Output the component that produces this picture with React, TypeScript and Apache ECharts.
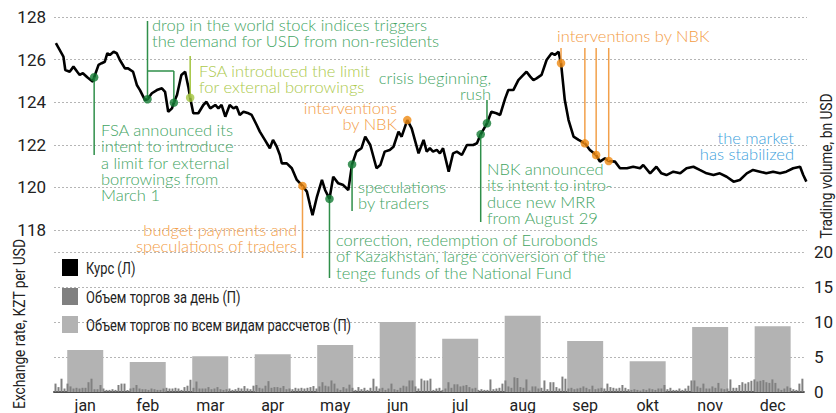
import React, { useEffect, useRef } from "react";
import * as echarts from "echarts";

// ---------- DATA ----------
const months = ["jan", "feb", "mar", "apr", "may", "jun", "jul", "aug", "sep", "okt", "nov", "dec"];

// Monthly trading volume, all settlement types (bn USD)
const monthlyVolume = [6.0, 4.3, 5.1, 5.4, 6.7, 10.0, 7.6, 10.9, 7.3, 4.4, 9.3, 9.4];

// Daily trading volume (bn USD), one value per trading day
const dailyVolume = [
  1.2, 0.7, 1.9, 0.5, 1.2, 0.8, 0.5, 0.6, 0.5, 0.6,
  0.6, 1.4, 1.9, 0.4, 0.4, 1.0, 0.5, 0.3, 0.3, 0.4,
  0.3, 1.0, 1.2, 1.2, 0.3, 0.5, 0.6, 1.0, 0.5, 0.4,
  0.4, 0.3, 0.5, 0.4, 0.3, 0.3, 0.5, 0.6, 0.5, 0.5,
  0.6, 0.5, 0.3, 0.7, 0.9, 1.75, 0.6, 1.5, 0.5, 0.5,
  0.5, 0.7, 0.4, 0.5, 0.7, 0.4, 0.3, 0.4, 0.5, 0.3,
  0.4, 0.6, 0.5, 0.85, 0.5, 0.4, 0.9, 1.0, 0.6, 0.5,
  0.9, 1.55, 0.6, 0.7, 0.7, 0.6, 0.85, 0.4, 0.5, 0.4,
  0.6, 0.5, 0.6, 0.5, 0.6, 0.7, 0.85, 0.5, 0.8, 1.4,
  0.9, 0.8, 1.65, 1.2, 0.5, 0.3, 0.7, 0.5, 1.05, 0.6,
  0.3, 0.7, 0.4, 0.6, 0.3, 0.6, 1.9, 0.8, 0.5, 0.6,
  0.3, 0.5, 1.2, 0.4, 0.3, 0.6, 0.9, 0.8, 1.65, 1.65,
  0.8, 0.5, 1.9, 1.65, 1.65, 1.9, 0.3, 0.5, 0.6, 0.3,
  0.5, 1.4, 0.6, 1.1, 1.1, 0.8, 0.9, 1.0, 0.7, 0.5,
  0.6, 0.3, 0.4, 0.3, 0.3, 1.8, 0.4, 0.5, 0.6, 1.2,
  1.65, 0.8, 0.6, 2.1, 2.0, 0.7, 0.6, 1.8, 0.2, 0.8,
  0.8, 0.5, 0.6, 1.65, 0.4, 1.4, 1.4, 0.7, 0.5, 2.2,
  1.9, 0.5, 0.6, 0.4, 0.5, 0.6, 0.8, 0.6, 0.4, 0.9,
  0.4, 0.5, 0.6, 0.5, 1.2, 0.7, 0.6, 0.5, 0.6, 1.0,
  0.6, 0.4, 0.3, 0.4, 0.3, 0.2, 0.4, 0.3, 0.5, 0.4,
  0.3, 0.5, 0.5, 1.0, 0.4, 0.6, 0.3, 0.3, 0.5, 0.3,
  0.5, 0.9, 1.65, 1.65, 0.8, 0.6, 1.2, 0.5, 0.5, 0.8,
  0.6, 1.3, 0.5, 0.4, 0.5, 1.8, 0.6, 0.6, 1.0, 1.4,
  1.2, 1.4, 1.6, 1.8, 1.5, 1.6, 1.7, 1.4, 1.3, 1.8,
  1.3, 0.5, 0.3, 0.5, 0.8, 0.6, 0.4, 0.3, 1.2, 1.9,
];

// Exchange rate: time in months from Jan 1 (t) and KZT per USD (v)
const rateT = [
  0.03, 0.15, 0.18, 0.25, 0.31, 0.37, 0.41, 0.46, 0.53, 0.62, 0.64, 0.71, 0.76, 0.81, 0.85, 0.89, 0.95,
  1.0, 1.05, 1.13, 1.18, 1.26, 1.32, 1.37, 1.45, 1.49, 1.56, 1.64, 1.72, 1.77, 1.82, 1.88, 1.91, 1.96,
  2.03, 2.09, 2.14, 2.17, 2.22, 2.3, 2.38, 2.43, 2.49, 2.57, 2.62, 2.67, 2.73, 2.8, 2.86, 2.91, 2.96,
  3.02, 3.1, 3.15, 3.23, 3.28, 3.36, 3.44, 3.49, 3.55, 3.6, 3.63, 3.71, 3.79, 3.87, 3.96,
  4.03, 4.08, 4.12, 4.19, 4.27, 4.32, 4.39, 4.45, 4.53, 4.61, 4.69, 4.75, 4.82, 4.9, 4.96,
  5.04, 5.14, 5.2, 5.27, 5.35, 5.41, 5.49, 5.54, 5.63, 5.7, 5.81, 5.89, 5.94, 5.99,
  6.04, 6.1, 6.15, 6.2, 6.29, 6.36, 6.42, 6.5, 6.58, 6.68, 6.74, 6.8, 6.9, 6.97,
  7.05, 7.11, 7.19, 7.24, 7.32, 7.4, 7.48, 7.53, 7.59, 7.64, 7.69, 7.77, 7.85, 7.93, 7.98,
  8.04, 8.08, 8.14, 8.2, 8.28, 8.36, 8.46, 8.54, 8.64, 8.7, 8.78, 8.84, 8.94,
  9.02, 9.13, 9.23, 9.34, 9.39, 9.5, 9.6, 9.68, 9.76, 9.87, 9.98,
  10.08, 10.19, 10.29, 10.4, 10.51, 10.61, 10.72, 10.83, 10.93,
  11.04, 11.14, 11.25, 11.35, 11.46, 11.57, 11.67, 11.78, 11.89, 11.94, 11.99,
];
const rateV = [
  126.77, 126.14, 125.51, 125.43, 125.67, 125.43, 125.28, 125.36, 125.17, 124.96, 125.17, 125.75, 125.83, 125.9, 126.3, 126.22, 126.37,
  126.3, 125.98, 125.59, 125.59, 125.43, 124.81, 124.57, 124.1, 124.14, 124.42, 124.57, 124.65, 124.49, 123.55, 123.71, 123.98, 124.34,
  125.28, 125.43, 124.73, 124.21, 123.48, 123.48, 123.87, 124.02, 123.71, 123.87, 123.71, 123.87, 123.32, 123.87, 123.71, 123.79, 123.4,
  123.55, 123.48, 123.4, 122.93, 122.62, 122.23, 121.84, 122.23, 121.91, 121.52, 121.13, 121.13, 120.9, 120.35, 120.07,
  119.8, 119.17, 118.7, 119.56, 120.35, 119.88, 119.46, 120.5, 120.19, 120.11, 119.88, 121.08, 121.68, 121.84, 122.38,
  121.99, 120.9, 121.05, 121.68, 121.76, 121.91, 122.62, 122.38, 123.16, 122.77, 121.6, 122.23, 121.68, 121.84,
  121.68, 121.76, 121.6, 121.84, 120.74, 121.6, 121.68, 121.52, 121.99, 121.99, 122.07, 122.49, 123.01, 123.55,
  123.48, 123.4, 124.18, 124.57, 124.57, 125.04, 125.28, 125.43, 125.2, 125.04, 125.12, 125.28, 125.98, 126.3, 126.22,
  126.37, 125.83, 124.1, 123.16, 122.38, 122.23, 122.07, 121.76, 121.52, 121.21, 121.37, 121.24, 121.21,
  120.9, 120.9, 120.97, 120.9, 121.05, 120.66, 120.97, 120.66, 120.58, 120.74, 120.66,
  120.9, 120.97, 120.82, 120.66, 120.58, 120.66, 120.5, 120.27, 120.35,
  120.66, 120.82, 120.74, 120.66, 120.74, 120.66, 120.74, 120.9, 120.97, 120.58, 120.27,
];

// Marked events on the rate line
const eventT = [0.64, 1.49, 1.91, 2.17, 3.96, 4.39, 4.75, 5.63, 6.8, 6.9, 8.08, 8.46, 8.64, 8.84];
const eventV = [125.17, 124.14, 123.98, 124.21, 120.07, 119.46, 121.08, 123.16, 122.49, 123.01, 125.83, 122.07, 121.52, 121.24];
const eventKind = ["event", "event", "event", "fsa", "nbk", "event", "event", "nbk", "event", "event", "nbk", "nbk", "nbk", "nbk"];

const seriesNames = ["Курс (Л)", "Объем торгов за день (П)", "Объем торгов по всем видам рассчетов (П)"];

// ---------- STYLE / LAYOUT ----------
const AX_FONT = "Roboto, 'DejaVu Sans', sans-serif";
const ANN_FONT = "Lato, 'Noto Sans', sans-serif";
const COND = 0.76; // horizontal squeeze to imitate the condensed face
const kindStyle: Record<string, { text: string; dot: string; line: string }> = {
  event: { text: "#3fa462", dot: "#137a33", line: "#2f8f4a" },
  fsa: { text: "#abc94a", dot: "#a3c43e", line: "#a3c43e" },
  nbk: { text: "#f39c45", dot: "#ef8a12", line: "#f2a04a" },
  calm: { text: "#3c9fdc", dot: "#3c9fdc", line: "#3c9fdc" },
};
const legendColors = ["#000000", "#808080", "#b3b3b3"];
const legendLayout = { x: 62, y: [259, 288, 316], w: 16, h: 17, textX: 86 };

const notes = [
  { text: "FSA announced its\nintent to introduce\na limit for external\nborrowings from\nMarch 1", kind: "event", x: 101, y: 122, align: "left" },
  { text: "drop in the world stock indices triggers\nthe demand for USD from non-residents", kind: "event", x: 152, y: 17, align: "left" },
  { text: "FSA introduced the limit\nfor external borrowings", kind: "fsa", x: 199, y: 63, align: "left" },
  { text: "budget payments and\nspeculations of traders", kind: "nbk", x: 297, y: 222, align: "right" },
  { text: "correction, redemption of Eurobonds\nof Kazakhstan, large conversion of the\ntenge funds of the National Fund", kind: "event", x: 336, y: 232, align: "left" },
  { text: "speculations\nby traders", kind: "event", x: 358, y: 179, align: "left" },
  { text: "interventions\nby NBK", kind: "nbk", x: 397, y: 100, align: "right" },
  { text: "crisis beginning,\nrush", kind: "event", x: 491, y: 70, align: "right" },
  { text: "NBK announced\nits intent to intro-\nduce new MRR\nfrom August 29", kind: "event", x: 487, y: 161, align: "left" },
  { text: "interventions by NBK", kind: "nbk", x: 557, y: 28, align: "left" },
  { text: "the market\nhas stabilized", kind: "calm", x: 794, y: 130, align: "right" },
];

// connector from event dot to a pixel y
const connectors = [
  { e: 0, toY: 155 }, { e: 1, toY: 21 }, { e: 2, toY: 71 }, { e: 3, toY: 56 },
  { e: 4, toY: 258 }, { e: 5, toY: 278 }, { e: 6, toY: 211 }, { e: 8, toY: 222 },
  { e: 9, toY: 100 }, { e: 10, toY: 48 }, { e: 11, toY: 48 }, { e: 12, toY: 48 }, { e: 13, toY: 48 },
];

const splitStyle = { show: true, lineStyle: { color: "#b5b5b5", type: [2, 2] as any, width: 1 } };

export default function App() {
  const ref = useRef<HTMLDivElement>(null);
  useEffect(() => {
    const chart = echarts.init(ref.current!, null, { renderer: "svg" });
    const option: any = {
      animation: false,
      backgroundColor: "#ffffff",
      textStyle: { fontFamily: AX_FONT },
      grid: [
        { left: 54, right: 29, top: 17, height: 213 },
        { left: 54, right: 29, top: 252, height: 141 },
      ],
      xAxis: [
        { type: "value", gridIndex: 0, min: 0, max: 12, show: false },
        {
          type: "category",
          gridIndex: 1,
          data: months,
          axisLine: { show: true, lineStyle: { color: "#4d4d4d", width: 2 } },
          axisTick: { show: false },
          axisLabel: { fontSize: 16, color: "#222", margin: 5, fontFamily: AX_FONT },
        },
        { type: "category", gridIndex: 1, data: dailyVolume.map((_, i) => String(i)), show: false },
      ],
      yAxis: [
        {
          type: "value", gridIndex: 0, min: 118, max: 128, interval: 2,
          axisLine: { show: false }, axisTick: { show: false },
          axisLabel: { fontSize: 17, color: "#222", margin: 8, fontFamily: AX_FONT },
          splitLine: splitStyle,
        },
        {
          type: "value", gridIndex: 1, position: "right", min: 0, max: 20, interval: 5,
          axisLine: { show: false }, axisTick: { show: false },
          axisLabel: { fontSize: 17, color: "#222", margin: 10, fontFamily: AX_FONT },
          splitLine: splitStyle,
        },
      ],
      series: [
        {
          name: seriesNames[2], type: "bar", xAxisIndex: 1, yAxisIndex: 1,
          data: monthlyVolume, barWidth: 36, itemStyle: { color: legendColors[2] }, z: 2,
        },
        {
          name: seriesNames[1], type: "bar", xAxisIndex: 2, yAxisIndex: 1,
          data: dailyVolume, barWidth: 2, itemStyle: { color: legendColors[1] }, z: 3,
        },
        {
          name: seriesNames[0], type: "line", xAxisIndex: 0, yAxisIndex: 0,
          data: rateT.map((t, i) => [t, rateV[i]]), showSymbol: false, symbol: "none",
          lineStyle: { color: legendColors[0], width: 2.6 }, itemStyle: { color: legendColors[0] }, z: 4,
        },
        {
          name: "events", type: "scatter", xAxisIndex: 0, yAxisIndex: 0, symbolSize: 8.5, z: 6,
          data: eventT.map((t, i) => ({ value: [t, eventV[i]], itemStyle: { color: kindStyle[eventKind[i]].dot } })),
        },
      ],
    };
    chart.setOption(option);

    const px = (i: number) => chart.convertToPixel({ gridIndex: 0 }, [eventT[i], eventV[i]]) as number[];
    const graphics: any[] = [];
    connectors.forEach((c) => {
      const p = px(c.e);
      graphics.push({
        type: "line", z: 5,
        shape: { x1: p[0], y1: p[1], x2: p[0], y2: c.toY },
        style: { stroke: kindStyle[eventKind[c.e]].line, lineWidth: 1.5 },
      });
    });
    // bracket joining the two "drop in world stock indices" events
    const b1 = px(1), b2 = px(2);
    graphics.push({
      type: "line", z: 5,
      shape: { x1: b1[0], y1: 71, x2: b2[0], y2: 71 },
      style: { stroke: kindStyle.event.line, lineWidth: 1.5 },
    });
    notes.forEach((n) => {
      graphics.push({
        type: "text", z: 7, x: n.x, y: n.y,
        style: {
          text: n.text, fill: kindStyle[n.kind].text, font: `300 16.5px ${ANN_FONT}`,
          lineHeight: 16.3, align: n.align, verticalAlign: "top",
        },
      });
    });
    // legend
    seriesNames.forEach((name, i) => {
      graphics.push({
        type: "rect", z: 7,
        shape: { x: legendLayout.x, y: legendLayout.y[i], width: legendLayout.w, height: legendLayout.h },
        style: { fill: legendColors[i] },
      });
      graphics.push({
        type: "text", z: 7, x: legendLayout.textX, y: legendLayout.y[i] + legendLayout.h / 2 + 0.5, scaleX: COND,
        style: { text: name, fill: "#222", font: `17px ${AX_FONT}`, align: "left", verticalAlign: "middle" },
      });
    });
    // axis titles
    graphics.push({
      type: "text", z: 7, x: 20, y: 324, rotation: Math.PI / 2, scaleX: 0.86,
      style: { text: "Exchange rate, KZT per USD", fill: "#222", font: `16px ${AX_FONT}`, align: "center", verticalAlign: "middle" },
    });
    graphics.push({
      type: "text", z: 7, x: 827, y: 166, rotation: Math.PI / 2, scaleX: 0.86,
      style: { text: "Trading volume, bn USD", fill: "#222", font: `16px ${AX_FONT}`, align: "center", verticalAlign: "middle" },
    });
    chart.setOption({ graphic: graphics });

    return () => chart.dispose();
  }, []);
  return <div ref={ref} style={{ position: "absolute", left: 0, top: 0, width: 836, height: 413 }} />;
}
